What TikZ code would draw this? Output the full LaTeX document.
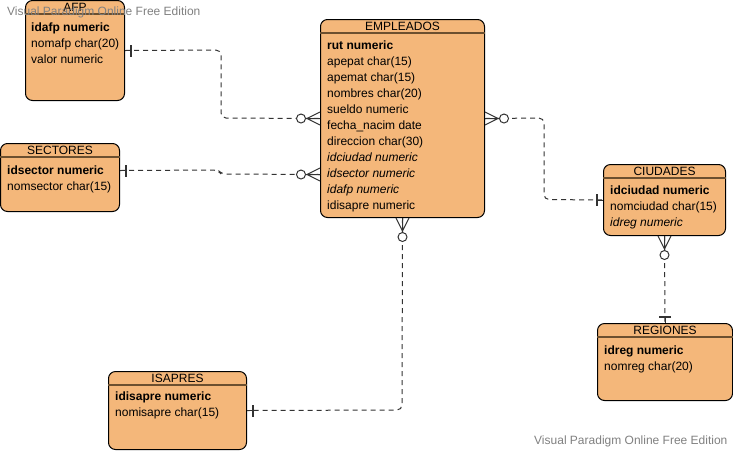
\documentclass[tikz,border=0pt]{standalone}
\usepackage{fontspec}
\setmainfont{Liberation Sans}
\usepackage{xcolor}
\usepackage{tikz}
\definecolor{erfill}{HTML}{F4B77A}
\definecolor{erline}{HTML}{6B4F2F}
\definecolor{relgray}{HTML}{333333}
\tikzset{
  entity/.style={draw=black, fill=erfill, line width=1pt, rounded corners=7pt, anchor=north west, inner sep=0pt},
  hdr/.style={erline, line width=1.6pt},
  title/.style={inner sep=0pt, font=\fontsize{12}{14}\selectfont},
  field/.style={inner sep=0pt, anchor=west, text height=9pt, text depth=3pt, font=\fontsize{12}{14}\selectfont},
  rel/.style={relgray, line width=1pt, dash pattern=on 5pt off 4pt, rounded corners=5pt},
  wmark/.style={anchor=west, inner sep=0pt, gray, font=\fontsize{12}{14}\selectfont},
  zeromany/.pic={
    \draw[relgray, line width=1pt] (0pt,6.5pt) -- (13pt,0pt) -- (0pt,-6.5pt) (0pt,0pt) -- (14.5pt,0pt);
    \draw[relgray, line width=1pt, fill=white] (19pt,0pt) circle (4.5pt);
  },
  onebar/.pic={
    \draw[relgray, line width=1pt] (0pt,0pt) -- (7pt,0pt);
    \draw[relgray, line width=1.5pt] (6pt,-6pt) -- (6pt,6pt);
  }
}

\begin{document}
\begin{tikzpicture}[x=1pt, y=-1pt]
\useasboundingbox (0,0) rectangle (733,451);

% AFP
\node[entity, minimum width=99pt, minimum height=100pt] (afp) at (25,0) {};
\draw[hdr] ([yshift=-14pt]afp.north west) -- ([yshift=-14pt]afp.north east);
\node[title] (afpT) at ([yshift=-7pt]afp.north) {AFP};
\node[field] (afp1) at (31,28) {\textbf{idafp numeric}};
\node[field] (afp2) at (31,44) {nomafp char(20)};
\node[field] (afp3) at (31,60) {valor numeric};

% SECTORES
\node[entity, minimum width=119pt, minimum height=68pt] (sec) at (0,143) {};
\draw[hdr] ([yshift=-14pt]sec.north west) -- ([yshift=-14pt]sec.north east);
\node[title] (secT) at ([yshift=-7pt]sec.north) {SECTORES};
\node[field] (sec1) at (7,171) {\textbf{idsector numeric}};
\node[field] (sec2) at (7,187) {nomsector char(15)};

% EMPLEADOS
\node[entity, minimum width=164pt, minimum height=198pt] (emp) at (320,19) {};
\draw[hdr] ([yshift=-14pt]emp.north west) -- ([yshift=-14pt]emp.north east);
\node[title] (empT) at ([yshift=-7pt]emp.north) {EMPLEADOS};
\node[field] (emp1) at (327,46) {\textbf{rut numeric}};
\node[field] (emp2) at (327,62) {apepat char(15)};
\node[field] (emp3) at (327,78) {apemat char(15)};
\node[field] (emp4) at (327,94) {nombres char(20)};
\node[field] (emp5) at (327,110) {sueldo numeric};
\node[field] (emp6) at (327,126) {fecha\_nacim date};
\node[field] (emp7) at (327,142) {direccion char(30)};
\node[field] (emp8) at (327,158) {\textit{idciudad numeric}};
\node[field] (emp9) at (327,174) {\textit{idsector numeric}};
\node[field] (emp10) at (327,190) {\textit{idafp numeric}};
\node[field] (emp11) at (327,206) {idisapre numeric};

% CIUDADES
\node[entity, minimum width=122pt, minimum height=71pt] (ciu) at (603,164) {};
\draw[hdr] ([yshift=-14pt]ciu.north west) -- ([yshift=-14pt]ciu.north east);
\node[title] (ciuT) at ([yshift=-7pt]ciu.north) {CIUDADES};
\node[field] (ciu1) at (610,191) {\textbf{idciudad numeric}};
\node[field] (ciu2) at (610,207) {nomciudad char(15)};
\node[field] (ciu3) at (610,223) {\textit{idreg numeric}};

% REGIONES
\node[entity, minimum width=135pt, minimum height=77pt] (reg) at (597,323) {};
\draw[hdr] ([yshift=-14pt]reg.north west) -- ([yshift=-14pt]reg.north east);
\node[title] (regT) at ([yshift=-7pt]reg.north) {REGIONES};
\node[field] (reg1) at (604,351) {\textbf{idreg numeric}};
\node[field] (reg2) at (604,367) {nomreg char(20)};

% ISAPRES
\node[entity, minimum width=138pt, minimum height=78pt] (isa) at (108,371) {};
\draw[hdr] ([yshift=-14pt]isa.north west) -- ([yshift=-14pt]isa.north east);
\node[title] (isaT) at ([yshift=-7pt]isa.north) {ISAPRES};
\node[field] (isa1) at (115,397) {\textbf{idisapre numeric}};
\node[field] (isa2) at (115,413) {nomisapre char(15)};

% relations
\draw[rel] (afp.east) -- (221,50) -- (221,118) -- (emp.west);
\draw[rel] ([yshift=7pt]sec.east) -- (218,170) -- (221,174) -- ([yshift=-56pt]emp.west);
\draw[rel] (emp.east) -- (544,118) -- (544,199.5) -- (ciu.west);
\draw[rel] (emp.south) -- (402,410) -- (isa.east);
\draw[rel] (ciu.south) -- (reg.north);

% ends
\pic[rotate=180] at (emp.west) {zeromany};
\pic[rotate=180] at ([yshift=-56pt]emp.west) {zeromany};
\pic at (emp.east) {zeromany};
\pic[rotate=-90] at (emp.south) {zeromany};
\pic[rotate=-90] at (ciu.south) {zeromany};
\pic at (afp.east) {onebar};
\pic at ([yshift=7pt]sec.east) {onebar};
\pic[rotate=180] at (ciu.west) {onebar};
\pic at (isa.east) {onebar};
\pic[rotate=90] at (reg.north) {onebar};

% watermarks
\node[wmark] (wm1) at (7,12) {Visual Paradigm Online Free Edition};
\node[wmark] (wm2) at (534,441) {Visual Paradigm Online Free Edition};
\end{tikzpicture}
\end{document}
